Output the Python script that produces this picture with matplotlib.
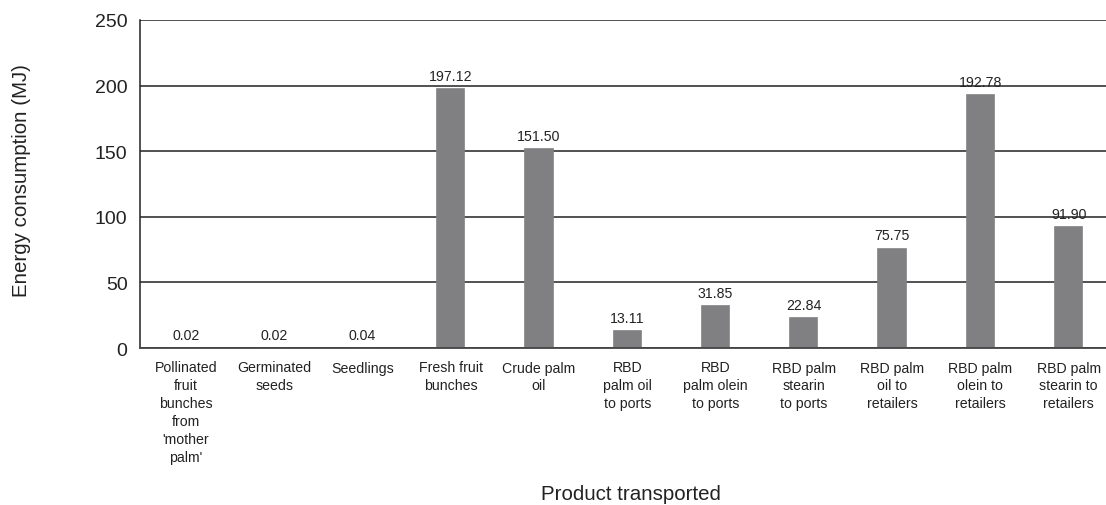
import matplotlib
matplotlib.use("Agg")
import matplotlib.pyplot as plt

plt.rcParams['font.family'] = ['Liberation Sans', 'DejaVu Sans']

categories = [
    "Pollinated\nfruit\nbunches\nfrom\n'mother\npalm'",
    "Germinated\nseeds",
    "Seedlings",
    "Fresh fruit\nbunches",
    "Crude palm\noil",
    "RBD\npalm oil\nto ports",
    "RBD\npalm olein\nto ports",
    "RBD palm\nstearin\nto ports",
    "RBD palm\noil to\nretailers",
    "RBD palm\nolein to\nretailers",
    "RBD palm\nstearin to\nretailers",
]
values = [0.02, 0.02, 0.04, 197.12, 151.50, 13.11, 31.85, 22.84, 75.75, 192.78, 91.90]
value_labels = ["0.02", "0.02", "0.04", "197.12", "151.50", "13.11", "31.85", "22.84", "75.75", "192.78", "91.90"]
yticks = [0, 50, 100, 150, 200, 250]

W, H = 1106, 506
fig = plt.figure(figsize=(W / 100, H / 100), dpi=100)
ax = fig.add_axes([140 / W, 1 - 349 / H, 971 / W, 328 / H])

bar_color = "#808083"
x = list(range(len(categories)))
ax.bar(x, values, width=0.31, color=bar_color, edgecolor=bar_color, linewidth=1.2, zorder=3)

ax.set_xlim(-0.52, len(categories) - 0.52)
ax.set_ylim(0, 250)
ax.set_yticks(yticks)
ax.set_yticklabels([str(v) for v in yticks])
ax.yaxis.grid(True, color="#222222", linewidth=1.1, zorder=1)
ax.set_axisbelow(True)

for s in ["top", "right"]:
    ax.spines[s].set_visible(False)
ax.spines["left"].set_color("#222222")
ax.spines["left"].set_linewidth(1.1)
ax.spines["bottom"].set_color("#444444")
ax.spines["bottom"].set_linewidth(1.3)
ax.spines["bottom"].set_zorder(4)

ax.set_xticks(x)
ax.set_xticklabels(categories, fontsize=10.2, linespacing=1.35, color="#222222")
ax.tick_params(axis="x", length=0, pad=9)
ax.tick_params(axis="y", length=0, pad=9, labelsize=14, labelcolor="#222222")

for xi, v, lab in zip(x, values, value_labels):
    ax.annotate(lab, (xi, v), xytext=(0, 4.5), textcoords="offset points",
                ha="center", va="bottom", fontsize=10.2, color="#222222")

fig.text(22 / W, 1 - 181 / H, "Energy consumption (MJ)", rotation=90,
         ha="center", va="center", fontsize=14.8, color="#222222")
fig.text(631 / W, 1 - 495 / H, "Product transported",
         ha="center", va="center", fontsize=14.8, color="#222222")

fig.savefig("out.png", dpi=100)
